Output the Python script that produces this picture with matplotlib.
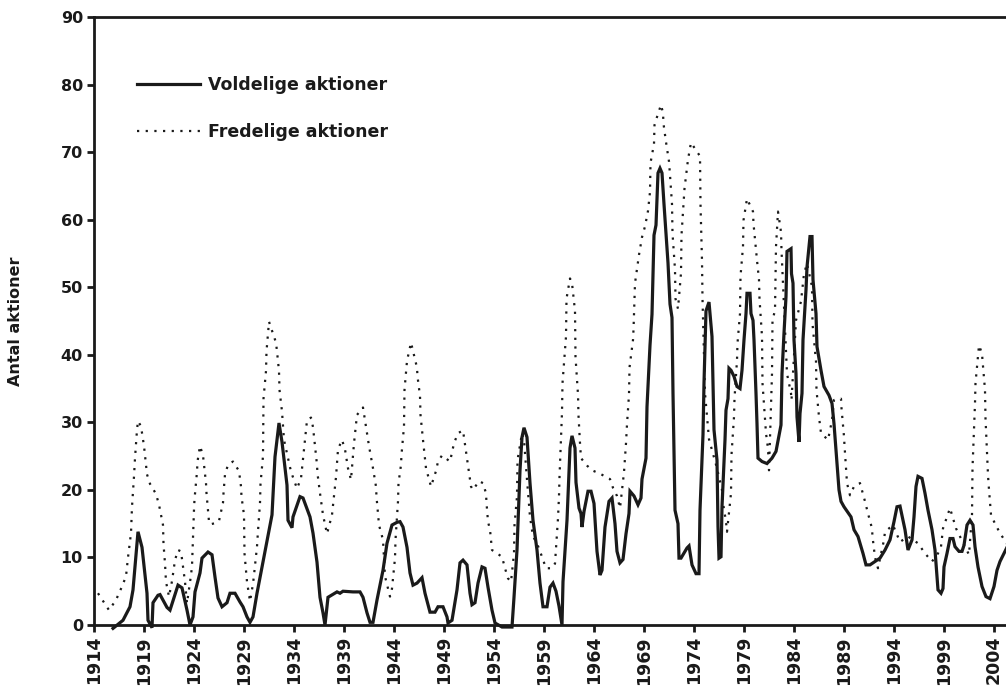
import matplotlib
matplotlib.use("Agg")
import matplotlib.pyplot as plt

# Voldelige aktioner (solid line)
vold_year = [1915.9, 1916.9, 1917.6, 1917.9, 1918.4, 1918.8, 1919.3, 1919.4, 1919.8, 1919.9,
             1920.4, 1920.6, 1921.3, 1921.6, 1922.4, 1922.8, 1923.3, 1923.6, 1923.9, 1924.1,
             1924.6, 1924.8, 1925.4, 1925.8, 1926.1, 1926.4, 1926.8, 1927.3, 1927.6, 1928.1,
             1928.6, 1928.9, 1929.3, 1929.6, 1929.9, 1930.3, 1931.8, 1932.1, 1932.5, 1932.8,
             1933.3, 1933.4, 1933.8, 1933.9, 1934.6, 1934.9, 1935.6, 1935.9, 1936.3, 1936.6,
             1936.9, 1937.1, 1937.4, 1938.3, 1938.6, 1938.9, 1939.9, 1940.6, 1940.9, 1941.3,
             1941.6, 1941.9, 1942.3, 1942.9, 1943.3, 1943.8, 1944.3, 1944.6, 1944.9, 1945.3,
             1945.6, 1945.9, 1946.3, 1946.8, 1947.1, 1947.6, 1948.1, 1948.4, 1948.9, 1949.3,
             1949.4, 1949.8, 1950.3, 1950.6, 1950.9, 1951.3, 1951.6, 1951.8, 1952.1, 1952.4,
             1952.8, 1953.1, 1953.4, 1953.8, 1954.1, 1954.8, 1955.8, 1956.0, 1956.3, 1956.6,
             1956.8, 1957.0, 1957.3, 1957.6, 1957.9, 1958.3, 1958.6, 1958.9, 1959.3, 1959.6,
             1959.9, 1960.2, 1960.5, 1960.8, 1960.9, 1961.3, 1961.4, 1961.6, 1961.8, 1962.1,
             1962.2, 1962.5, 1962.7, 1962.8, 1963.0, 1963.4, 1963.7, 1964.0, 1964.3, 1964.6,
             1964.8, 1965.1, 1965.5, 1965.8, 1966.1, 1966.3, 1966.6, 1966.9, 1967.2, 1967.5,
             1967.6, 1968.0, 1968.4, 1968.7, 1968.8, 1969.2, 1969.3, 1969.6, 1969.8, 1970.0,
             1970.2, 1970.4, 1970.6, 1970.8, 1971.0, 1971.4, 1971.6, 1971.8, 1971.9, 1972.1,
             1972.4, 1972.5, 1972.7, 1973.3, 1973.5, 1973.8, 1974.2, 1974.5, 1974.6, 1974.9,
             1975.0, 1975.2, 1975.5, 1975.8, 1976.0, 1976.3, 1976.4, 1976.5, 1976.7, 1976.8,
             1977.1, 1977.2, 1977.4, 1977.5, 1977.7, 1978.0, 1978.3, 1978.6, 1978.8, 1979.0,
             1979.2, 1979.3, 1979.6, 1979.7, 1979.9, 1980.0, 1980.2, 1980.3, 1980.4, 1980.8,
             1981.3, 1981.8, 1982.2, 1982.7, 1982.8, 1983.0, 1983.2, 1983.3, 1983.7, 1983.75,
             1983.9, 1984.0, 1984.2, 1984.3, 1984.5, 1984.6, 1984.8, 1984.9, 1985.2, 1985.3,
             1985.6, 1985.8, 1985.9, 1986.2, 1986.3, 1986.7, 1987.0, 1987.5, 1987.8, 1988.0,
             1988.3, 1988.5, 1988.7, 1989.0, 1989.7, 1990.0, 1990.4, 1990.9, 1991.2, 1991.6,
             1992.1, 1992.6, 1993.1, 1993.6, 1994.0, 1994.3, 1994.6, 1994.9, 1995.1, 1995.4,
             1995.8, 1996.0, 1996.2, 1996.4, 1996.8, 1997.1, 1997.4, 1997.8, 1998.1, 1998.4,
             1998.7, 1998.9, 1999.0, 1999.3, 1999.6, 1999.9, 2000.1, 2000.5, 2000.8, 2001.0,
             2001.3, 2001.6, 2001.9, 2002.1, 2002.4, 2002.8, 2003.2, 2003.6, 2004.0, 2004.3,
             2004.6, 2005.3]
vold_val = [-0.5, 0.7, 2.7, 5.2, 13.8, 11.5, 4.7, 0.7, -0.4, 3.3,
            4.4, 4.5, 2.6, 2.2, 5.9, 5.5, 2.2, 0.0, 1.2, 4.9,
            7.7, 9.9, 10.8, 10.4, 7.1, 4.0, 2.7, 3.3, 4.7, 4.7,
            3.4, 2.7, 1.2, 0.4, 1.2, 4.7, 16.3, 24.9, 29.9, 27.1,
            20.7, 15.5, 14.4, 16.0, 19.0, 18.8, 16.0, 13.6, 9.3, 4.1,
            1.8, 0.0, 4.1, 4.9, 4.7, 5.0, 4.9, 4.9, 4.1, 1.8,
            0.4, 0.4, 3.7, 8.1, 12.1, 14.8, 15.2, 15.3, 14.5, 11.5,
            7.7, 5.9, 6.2, 7.0, 4.7, 1.9, 1.9, 2.7, 2.7, 1.2,
            0.3, 0.7, 5.2, 9.2, 9.6, 8.9, 4.7, 3.0, 3.3, 6.2,
            8.6, 8.4, 5.6, 2.2, 0.3, -0.3, -0.3, 4.1, 11.1, 22.9,
            27.8, 29.2, 27.8, 21.0, 15.5, 11.1, 6.2, 2.7, 2.7, 5.6,
            6.2, 5.0, 2.8, 0.0, 6.4, 15.5, 19.0, 26.2, 28.0, 26.2,
            21.1, 17.3, 16.5, 14.5, 16.8, 19.8, 19.8, 18.0, 10.9, 7.4,
            8.1, 14.5, 18.3, 18.8, 15.0, 10.9, 9.2, 9.7, 13.5, 16.5,
            19.8, 19.1, 17.8, 18.8, 21.6, 24.7, 32.3, 41.4, 46.0, 57.7,
            59.2, 66.9, 67.6, 66.9, 62.3, 53.6, 47.5, 45.5, 34.3, 17.0,
            15.0, 9.9, 9.9, 11.4, 11.7, 8.9, 7.6, 7.6, 17.0, 28.2,
            35.8, 46.5, 47.8, 42.7, 28.9, 24.4, 14.6, 9.9, 10.1, 17.5,
            27.4, 31.8, 33.5, 38.0, 37.7, 36.8, 35.3, 35.0, 37.7, 42.2,
            46.1, 49.1, 49.1, 46.1, 45.1, 42.2, 34.3, 29.8, 24.7, 24.2,
            23.9, 24.7, 25.7, 29.6, 37.2, 43.2, 48.6, 55.3, 55.7, 52.0,
            50.6, 42.2, 37.2, 30.8, 27.1, 31.3, 34.3, 42.2, 49.6, 53.0,
            57.5, 57.5, 51.1, 46.1, 41.2, 37.7, 35.3, 34.0, 32.8, 29.8,
            23.9, 20.0, 18.3, 17.5, 16.0, 14.1, 13.1, 10.6, 8.9, 8.9,
            9.4, 9.9, 11.1, 12.6, 15.3, 17.5, 17.6, 15.5, 14.1, 11.1,
            12.6, 16.0, 20.5, 22.0, 21.7, 19.5, 17.0, 14.1, 11.1, 5.2,
            4.7, 5.4, 8.6, 10.6, 12.8, 12.8, 11.6, 10.9, 10.9, 11.8,
            14.8, 15.5, 14.8, 11.6, 8.6, 5.7, 4.2, 3.9, 5.7, 8.1,
            9.4, 11.5]

# Fredelige aktioner (dotted line)
fred_year = [1914.4, 1915.5, 1916.2, 1916.8, 1917.2, 1917.4, 1917.7, 1917.8, 1918.0, 1918.1,
             1918.3, 1918.4, 1918.7, 1919.0, 1919.3, 1919.6, 1920.2, 1920.5, 1920.9, 1920.95,
             1921.1, 1921.2, 1921.5, 1921.8, 1922.1, 1922.4, 1922.7, 1923.1, 1923.3, 1923.7,
             1923.8, 1924.0, 1924.05, 1924.3, 1924.35, 1924.6, 1924.9, 1925.0, 1925.2, 1925.25,
             1925.5, 1925.6, 1926.2, 1926.5, 1926.9, 1926.95, 1927.1, 1927.4, 1927.9, 1928.5,
             1928.7, 1928.75, 1929.0, 1929.05, 1929.3, 1929.6, 1929.9, 1930.0, 1930.3, 1930.35,
             1930.6, 1930.65, 1930.9, 1930.95, 1931.2, 1931.25, 1931.5, 1932.2, 1932.3, 1932.5,
             1932.55, 1932.8, 1933.0, 1933.4, 1933.7, 1934.3, 1934.7, 1935.0, 1935.3, 1935.7,
             1935.9, 1936.3, 1936.35, 1936.6, 1936.9, 1937.3, 1937.8, 1938.2, 1938.4, 1938.8,
             1939.1, 1939.4, 1939.7, 1940.0, 1940.3, 1940.9, 1941.2, 1941.5, 1941.9, 1942.2,
             1942.25, 1942.5, 1942.9, 1943.1, 1943.6, 1943.8, 1944.1, 1944.15, 1944.4, 1944.45,
             1944.7, 1944.75, 1945.0, 1945.05, 1945.3, 1945.7, 1946.3, 1946.35, 1946.6, 1946.65,
             1946.9, 1947.2, 1947.7, 1948.2, 1948.4, 1948.8, 1949.6, 1950.0, 1950.4, 1950.9,
             1951.3, 1951.7, 1951.9, 1952.5, 1952.9, 1953.2, 1953.25, 1953.4, 1953.6, 1953.8,
             1954.8, 1955.1, 1955.4, 1955.7, 1956.0, 1956.05, 1956.3, 1956.35, 1956.8, 1957.0,
             1957.3, 1957.6, 1957.9, 1958.3, 1958.8, 1959.2, 1959.8, 1960.1, 1960.3, 1960.4,
             1960.5, 1960.55, 1960.8, 1960.85, 1961.2, 1961.25, 1961.6, 1961.8, 1962.1, 1962.15,
             1962.4, 1962.45, 1962.6, 1962.7, 1963.3, 1963.8, 1964.6, 1965.6, 1965.9, 1966.3,
             1966.6, 1967.0, 1967.2, 1967.3, 1967.5, 1967.55, 1967.9, 1967.95, 1968.1, 1968.5,
             1968.8, 1969.1, 1969.4, 1969.6, 1969.65, 1970.0, 1970.05, 1970.3, 1970.7, 1970.9,
             1970.95, 1971.2, 1971.5, 1971.6, 1971.8, 1971.85, 1972.1, 1972.15, 1972.4, 1972.7,
             1972.75, 1973.0, 1973.05, 1973.4, 1973.7, 1974.6, 1974.65, 1974.8, 1974.85, 1975.1,
             1975.5, 1976.3, 1976.8, 1976.85, 1977.2, 1977.3, 1977.7, 1977.75, 1978.0, 1978.05,
             1978.3, 1978.35, 1978.6, 1978.65, 1978.9, 1978.95, 1979.3, 1979.9, 1979.95, 1980.2,
             1980.3, 1980.5, 1980.55, 1980.8, 1980.85, 1981.2, 1981.4, 1981.5, 1981.8, 1981.85,
             1982.1, 1982.2, 1982.4, 1982.7, 1982.75, 1983.3, 1983.7, 1983.75, 1984.2, 1984.7,
             1985.0, 1985.3, 1985.8, 1985.85, 1986.2, 1986.25, 1986.5, 1986.7, 1987.4, 1987.8,
             1988.0, 1988.7, 1988.75, 1989.0, 1989.05, 1989.3, 1989.6, 1990.0, 1990.6, 1991.1,
             1991.4, 1991.8, 1991.85, 1992.1, 1992.4, 1993.0, 1993.1, 1993.9, 1994.6, 1995.4,
             1996.4, 1997.1, 1997.8, 1998.4, 1998.7, 1998.9, 1999.6, 1999.9, 2000.2, 2001.5,
             2001.8, 2001.85, 2002.1, 2002.15, 2002.5, 2002.8, 2002.85, 2003.1, 2003.15, 2003.4,
             2003.45, 2003.7, 2004.1, 2004.6, 2005.3]
fred_val = [4.7, 2.2, 3.7, 5.7, 7.2, 10.0, 13.6, 17.5, 22.0, 24.7,
            28.9, 30.2, 29.4, 26.5, 22.3, 20.9, 19.4, 17.8, 14.8, 12.0,
            9.1, 6.4, 4.2, 6.5, 9.6, 11.1, 10.9, 6.4, 3.2, 7.4,
            8.7, 17.1, 18.6, 22.7, 24.2, 26.5, 25.1, 23.7, 21.0, 19.5,
            15.3, 14.9, 15.1, 15.4, 18.1, 19.5, 22.3, 23.7, 24.2, 22.8,
            20.5, 19.0, 16.3, 10.6, 6.4, 3.5, 6.1, 7.4, 11.6, 12.8,
            18.1, 20.9, 25.0, 33.5, 37.6, 40.5, 44.9, 41.8, 40.5, 37.6,
            34.8, 31.6, 27.4, 24.7, 22.7, 20.2, 21.7, 26.0, 30.3, 30.7,
            29.3, 23.7, 22.4, 19.5, 16.3, 13.5, 16.3, 21.9, 26.0, 27.4,
            26.0, 23.2, 21.5, 26.9, 31.1, 32.2, 29.4, 26.5, 23.2, 20.5,
            19.0, 14.8, 12.6, 7.2, 4.2, 5.4, 9.9, 12.6, 18.3, 21.0,
            23.7, 25.2, 29.4, 34.8, 39.1, 41.8, 38.1, 36.8, 33.9, 31.1,
            27.4, 23.2, 20.5, 22.8, 24.2, 25.1, 24.2, 26.9, 28.4, 28.8,
            24.7, 20.5, 20.0, 21.3, 21.0, 19.5, 18.1, 15.3, 14.1, 11.1,
            10.1, 8.4, 6.9, 6.4, 10.6, 14.8, 19.0, 24.4, 28.4, 27.4,
            21.5, 16.0, 13.1, 12.1, 10.1, 8.4, 8.4, 9.1, 13.5, 15.8,
            19.1, 21.9, 31.5, 35.8, 42.7, 48.3, 51.3, 50.6, 46.5, 39.7,
            34.1, 31.0, 26.9, 24.7, 23.6, 22.9, 22.4, 21.6, 20.3, 19.1,
            17.3, 22.6, 26.9, 29.7, 34.1, 38.1, 42.2, 43.7, 50.6, 54.8,
            57.4, 59.0, 61.3, 64.1, 68.4, 71.2, 74.0, 75.2, 77.0, 75.8,
            74.2, 71.5, 68.6, 66.6, 62.3, 58.0, 52.6, 48.3, 46.8, 52.1,
            57.7, 63.3, 64.6, 68.9, 71.4, 69.4, 62.3, 53.9, 48.3, 34.3,
            27.5, 23.2, 20.0, 18.5, 15.3, 13.8, 19.5, 25.2, 30.8, 33.5,
            39.2, 41.7, 46.1, 51.6, 56.0, 59.9, 63.1, 61.2, 59.4, 55.5,
            54.0, 51.1, 48.3, 42.7, 35.8, 28.4, 26.1, 22.9, 37.2, 45.1,
            46.6, 56.0, 61.2, 58.2, 55.5, 37.2, 34.3, 33.3, 45.1, 47.9,
            52.0, 53.5, 50.1, 44.6, 39.0, 34.8, 30.8, 28.4, 27.4, 30.3,
            33.3, 33.5, 32.1, 27.9, 26.6, 21.0, 19.2, 20.5, 21.0, 18.3,
            16.5, 14.3, 13.1, 10.0, 8.4, 12.6, 13.8, 14.8, 12.3, 13.1,
            12.1, 10.6, 9.4, 10.6, 11.6, 14.3, 17.3, 15.8, 14.3, 10.4,
            16.3, 23.2, 32.8, 35.8, 41.4, 40.2, 39.2, 34.8, 30.6, 22.2,
            21.0, 16.3, 15.0, 13.6, 12.0]

xticks = list(range(1914, 2005, 5))
yticks = list(range(0, 91, 10))

INK = '#1a1a1a'

plt.rcParams['font.family'] = ['DejaVu Sans']
plt.rcParams['font.weight'] = 'bold'

fig = plt.figure(figsize=(10.06, 6.91), dpi=100)
ax = fig.add_axes([94 / 1006, 66 / 691, 915 / 1006, 608 / 691])

ax.plot(vold_year, vold_val, color=INK, lw=2.3, solid_joinstyle='miter',
        label='Voldelige aktioner', clip_on=False)
ax.plot(fred_year, fred_val, color=INK, lw=1.6, linestyle=(0, (1, 2.9)),
        label='Fredelige aktioner', clip_on=False)

ax.set_xlim(1914, 2005.5)
ax.set_ylim(0, 90)
ax.set_xticks(xticks)
ax.set_xticklabels([str(y) for y in xticks], rotation=90, fontsize=12.5,
                   fontweight='bold', color=INK)
ax.set_yticks(yticks)
ax.set_yticklabels([str(v) for v in yticks], fontsize=11.5,
                   fontweight='bold', color=INK)
ax.tick_params(direction='out', length=5, width=2, color=INK, pad=3)

for side in ['left', 'top', 'bottom']:
    ax.spines[side].set_linewidth(2)
    ax.spines[side].set_color(INK)
ax.spines['right'].set_visible(False)

ax.set_ylabel('Antal aktioner', fontsize=11.5, fontweight='bold', color=INK,
              labelpad=27)

leg = ax.legend(loc='upper left', bbox_to_anchor=((137 - 94) / 915, (625 - 76) / 608),
                frameon=False, handlelength=3.6, handletextpad=0.5,
                labelspacing=1.65, borderpad=0, borderaxespad=0,
                prop={'size': 12.5, 'weight': 'bold'})
for t in leg.get_texts():
    t.set_color(INK)

fig.savefig('out.png', dpi=100)
